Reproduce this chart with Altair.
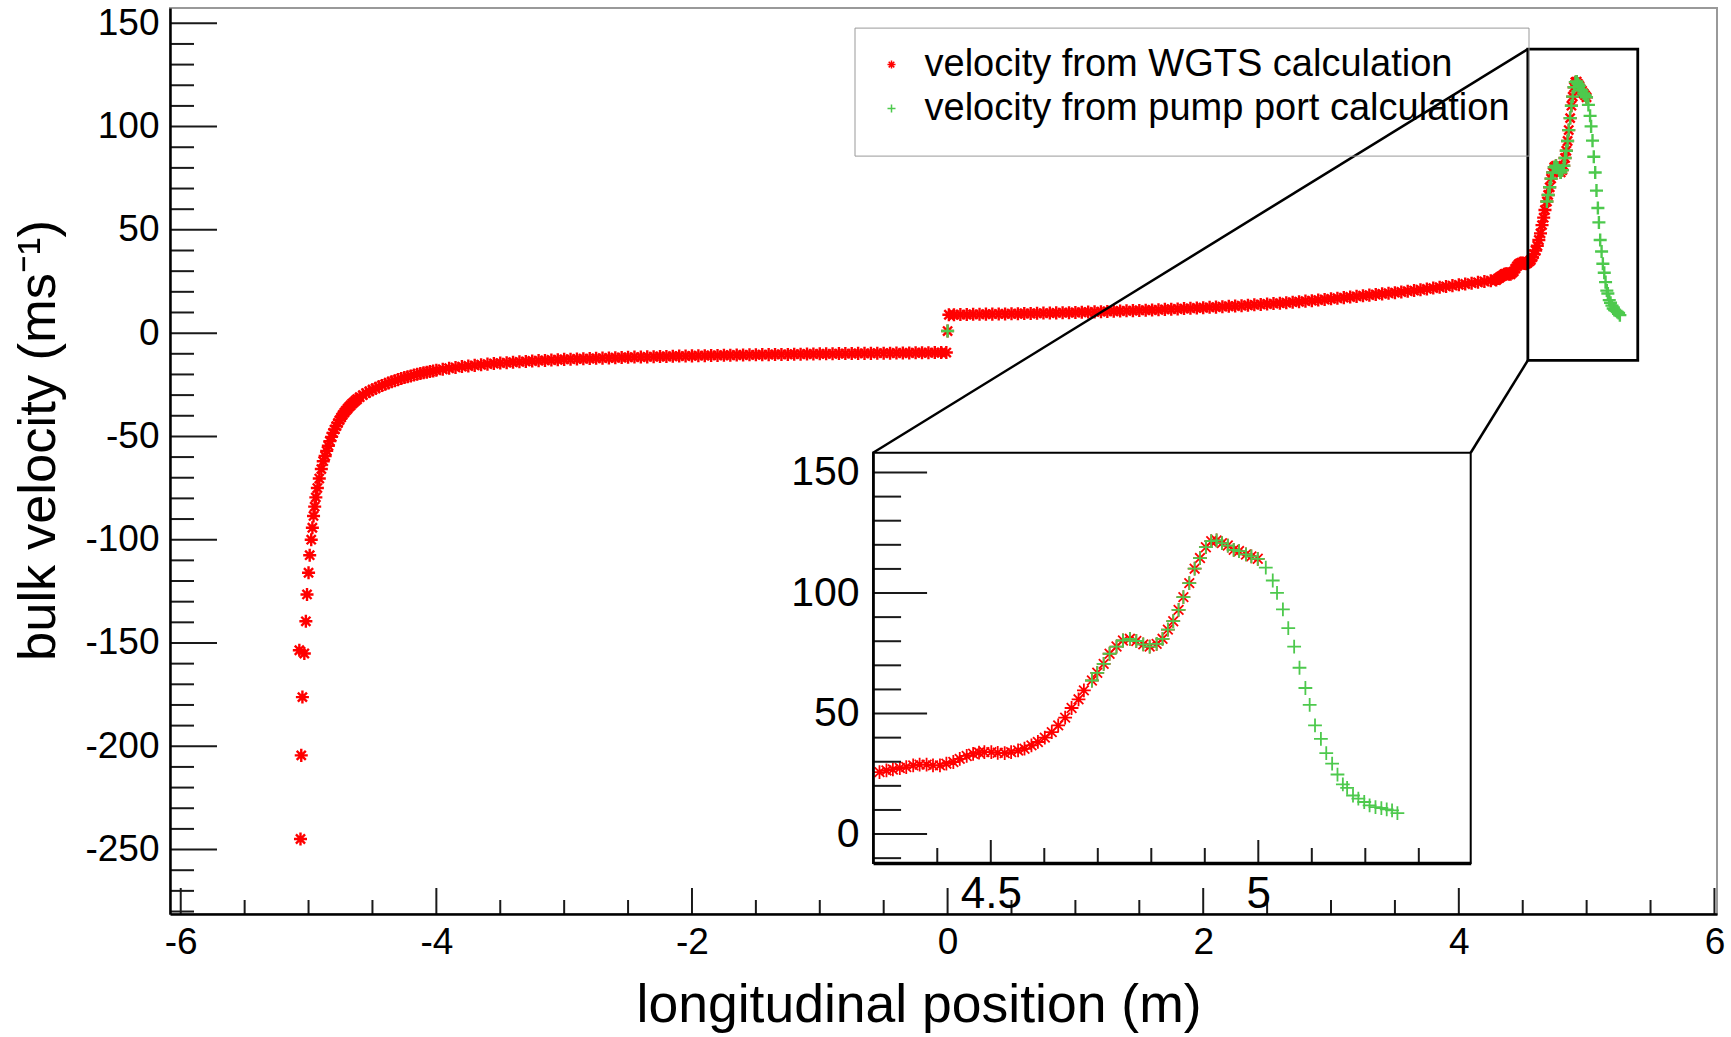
import altair as alt
import pandas as pd

WGTS = "velocity from WGTS calculation"
PUMP = "velocity from pump port calculation"

# ---------------- data ----------------
wgts_x_steep = [-5.063, -5.057, -5.048, -5.072, -5.033, -5.021, -5.012, -5.000, -4.991, -4.979,
                -4.970, -4.961, -4.952, -4.943, -4.931, -4.916, -4.900, -4.885, -4.870]
wgts_v_steep = [-244.9, -204.4, -176.2, -153.5, -155.1, -139.5, -126.5, -116.0, -107.5, -100.0,
                -94.2, -88.5, -84.0, -79.5, -75.0, -70.4, -65.8, -62.0, -59.5]

wgts_x_knee = [-4.858, -4.845, -4.833, -4.820, -4.808, -4.795, -4.783, -4.770, -4.758, -4.745,
               -4.733, -4.720, -4.708, -4.695, -4.683, -4.670, -4.658, -4.645, -4.633, -4.620,
               -4.600, -4.575, -4.550, -4.525, -4.500, -4.475, -4.450, -4.425, -4.400, -4.375,
               -4.350, -4.325, -4.300, -4.275, -4.250, -4.225, -4.200, -4.175, -4.150, -4.125,
               -4.100, -4.075, -4.050, -4.025, -4.000]
wgts_v_knee = [-57.0, -54.5, -52.3, -50.2, -48.3, -46.6, -45.0, -43.5, -42.1, -40.8,
               -39.6, -38.5, -37.5, -36.6, -35.7, -34.9, -34.1, -33.4, -32.7, -32.0,
               -31.0, -30.0, -29.0, -28.2, -27.4, -26.7, -26.0, -25.3, -24.7, -24.1,
               -23.5, -23.0, -22.5, -22.0, -21.5, -21.1, -20.7, -20.3, -19.9, -19.5,
               -19.2, -18.9, -18.6, -18.3, -18.0]

wgts_x_left = [-3.95, -3.90, -3.85, -3.80, -3.75, -3.70, -3.65, -3.60, -3.55, -3.50,
               -3.45, -3.40, -3.35, -3.30, -3.25, -3.20, -3.15, -3.10, -3.05, -3.00,
               -2.95, -2.90, -2.85, -2.80, -2.75, -2.70, -2.65, -2.60, -2.55, -2.50,
               -2.45, -2.40, -2.35, -2.30, -2.25, -2.20, -2.15, -2.10, -2.05, -2.00,
               -1.95, -1.90, -1.85, -1.80, -1.75, -1.70, -1.65, -1.60, -1.55, -1.50,
               -1.45, -1.40, -1.35, -1.30, -1.25, -1.20, -1.15, -1.10, -1.05, -1.00,
               -0.95, -0.90, -0.85, -0.80, -0.75, -0.70, -0.65, -0.60, -0.55, -0.50,
               -0.45, -0.40, -0.35, -0.30, -0.25, -0.20, -0.15, -0.10, -0.05, -0.01]
wgts_v_left = [-17.5, -17.0, -16.6, -16.2, -15.9, -15.6, -15.3, -15.0, -14.7, -14.5,
               -14.3, -14.1, -13.9, -13.7, -13.5, -13.3, -13.2, -13.0, -12.9, -12.7,
               -12.6, -12.5, -12.4, -12.3, -12.2, -12.1, -12.0, -11.9, -11.8, -11.7,
               -11.6, -11.6, -11.5, -11.4, -11.3, -11.3, -11.2, -11.1, -11.1, -11.0,
               -10.9, -10.9, -10.8, -10.8, -10.7, -10.7, -10.6, -10.6, -10.5, -10.5,
               -10.4, -10.4, -10.3, -10.3, -10.3, -10.2, -10.2, -10.1, -10.1, -10.0,
               -10.0, -10.0, -9.9, -9.9, -9.9, -9.8, -9.8, -9.8, -9.7, -9.7,
               -9.7, -9.6, -9.6, -9.6, -9.5, -9.5, -9.5, -9.4, -9.4, -9.4]

centre_x = [0.0]
centre_v = [1.0]

wgts_x_right = [0.01, 0.05, 0.10, 0.15, 0.20, 0.25, 0.30, 0.35, 0.40, 0.45,
                0.50, 0.55, 0.60, 0.65, 0.70, 0.75, 0.80, 0.85, 0.90, 0.95,
                1.00, 1.05, 1.10, 1.15, 1.20, 1.25, 1.30, 1.35, 1.40, 1.45,
                1.50, 1.55, 1.60, 1.65, 1.70, 1.75, 1.80, 1.85, 1.90, 1.95,
                2.00, 2.05, 2.10, 2.15, 2.20, 2.25, 2.30, 2.35, 2.40, 2.45,
                2.50, 2.55, 2.60, 2.65, 2.70, 2.75, 2.80, 2.85, 2.90, 2.95,
                3.00, 3.05, 3.10, 3.15, 3.20, 3.25, 3.30, 3.35, 3.40, 3.45,
                3.50, 3.55, 3.60, 3.65, 3.70, 3.75, 3.80, 3.85, 3.90, 3.95,
                4.00, 4.05, 4.10, 4.15, 4.20, 4.25]
wgts_v_right = [8.9, 8.9, 9.0, 9.0, 9.1, 9.1, 9.2, 9.2, 9.3, 9.3,
                9.4, 9.4, 9.5, 9.5, 9.6, 9.7, 9.7, 9.8, 9.9, 9.9,
                10.0, 10.1, 10.2, 10.3, 10.4, 10.5, 10.6, 10.7, 10.8, 10.9,
                11.0, 11.1, 11.2, 11.3, 11.5, 11.6, 11.7, 11.9, 12.0, 12.2,
                12.3, 12.5, 12.6, 12.8, 13.0, 13.1, 13.3, 13.5, 13.7, 13.9,
                14.1, 14.3, 14.5, 14.7, 15.0, 15.2, 15.5, 15.7, 16.0, 16.3,
                16.6, 16.9, 17.2, 17.5, 17.8, 18.1, 18.4, 18.7, 19.0, 19.3,
                19.6, 19.9, 20.3, 20.6, 21.0, 21.4, 21.8, 22.2, 22.6, 23.0,
                23.4, 23.8, 24.2, 24.6, 25.0, 25.4]

wgts_x_peak = [4.292, 4.305, 4.317, 4.330, 4.342, 4.355, 4.367, 4.380, 4.392, 4.405,
               4.417, 4.430, 4.442, 4.455, 4.467, 4.478, 4.488, 4.501, 4.513, 4.526,
               4.538, 4.551, 4.563, 4.576, 4.588, 4.601, 4.614, 4.626, 4.639, 4.651,
               4.664, 4.674, 4.689, 4.699, 4.711, 4.722, 4.735, 4.747, 4.760, 4.772,
               4.785, 4.797, 4.810, 4.821, 4.831, 4.841, 4.851, 4.860, 4.871, 4.881,
               4.891, 4.902, 4.912, 4.922, 4.932, 4.943, 4.954, 4.964, 4.977, 4.987,
               4.999]
wgts_v_peak = [25.7, 26.4, 26.8, 27.4, 27.8, 28.5, 28.8, 28.8, 28.5, 28.5,
               29.2, 29.9, 31.2, 32.4, 33.3, 33.8, 34.0, 34.0, 33.7, 33.6,
               34.0, 34.7, 35.4, 36.8, 38.2, 40.0, 42.3, 45.1, 48.3, 52.3,
               55.9, 59.6, 63.7, 66.9, 70.6, 74.8, 77.8, 80.3, 81.0, 80.1,
               78.7, 77.8, 78.9, 81.0, 84.8, 88.3, 93.0, 98.3, 104.1, 110.1,
               114.5, 119.0, 121.5, 121.8, 120.7, 119.7, 117.9, 117.4, 116.0, 115.2,
               114.2]

pump_x = [4.689, 4.699, 4.711, 4.722, 4.735, 4.747, 4.760, 4.772, 4.785, 4.797,
          4.810, 4.821, 4.831, 4.841, 4.851, 4.860, 4.871, 4.881, 4.891, 4.902,
          4.912, 4.922, 4.932, 4.943, 4.954, 4.964, 4.977, 4.987, 4.999, 5.014,
          5.027, 5.035, 5.046, 5.056, 5.067, 5.077, 5.088, 5.096, 5.106, 5.117,
          5.127, 5.138, 5.148, 5.158, 5.166, 5.177, 5.187, 5.198, 5.208, 5.219,
          5.230, 5.240, 5.250, 5.260]
pump_v = [63.7, 66.9, 70.6, 74.8, 77.8, 80.3, 81.0, 80.1, 78.7, 77.8,
          78.9, 81.0, 84.8, 88.3, 93.0, 98.3, 104.1, 110.1, 114.5, 119.0,
          121.5, 121.8, 120.7, 119.7, 117.9, 117.4, 116.0, 115.2, 114.2, 110.5,
          105.2, 100.1, 93.2, 85.4, 77.8, 69.0, 60.6, 53.6, 45.1, 39.5,
          33.6, 29.2, 24.7, 20.6, 19.2, 16.0, 14.7, 13.3, 11.9, 11.2,
          10.8, 10.2, 9.8, 8.7]

# axes / ticks
x_major = [-6, -4, -2, 0, 2, 4, 6]
x_minor = [-5.5, -5, -4.5, -3.5, -3, -2.5, -1.5, -1, -0.5, 0.5, 1, 1.5, 2.5, 3, 3.5, 4.5, 5, 5.5]
y_major = [-250, -200, -150, -100, -50, 0, 50, 100, 150]
y_minor = [v for v in range(-280, 151, 10) if v % 50 != 0]
inset_x_major = [4.5, 5]
inset_x_minor = [4.4, 4.6, 4.7, 4.8, 4.9, 5.1, 5.2, 5.3]
inset_y_major = [0, 50, 100, 150]
inset_y_minor = [-10, 10, 20, 30, 40, 60, 70, 80, 90, 110, 120, 130, 140]

# zoom annotation (main-plot coordinates)
X_DOMAIN = [-6.084, 6.02]
Y_DOMAIN = [-281.2, 157.4]
zoom_box_x = [4.54, 5.40]
zoom_box_y = [-13.2, 137.5]
inset_box_x = [-0.583, 4.093]
inset_box_y = [-256.5, -57.9]
INSET_X_DOMAIN = [4.28, 5.397]
INSET_Y_DOMAIN = [-12.0, 158.2]

# ---------------- build ----------------
FONT = "Liberation Sans"
W, H = 1547, 906
RED, GREEN = "#ff0000", "#4dc94d"
ASTERISK = "M-1,0L1,0M0,-1L0,1M-0.7,-0.7L0.7,0.7M-0.7,0.7L0.7,-0.7"
PLUS = "M-1,0L1,0M0,-1L0,1"


def rows(xs, vs, name):
    return [{"x": a, "v": b, "series": name} for a, b in zip(xs, vs)]


df = pd.DataFrame(
    rows(wgts_x_steep, wgts_v_steep, WGTS)
    + rows(wgts_x_knee, wgts_v_knee, WGTS)
    + rows(wgts_x_left, wgts_v_left, WGTS)
    + rows(centre_x, centre_v, WGTS)
    + rows(wgts_x_right, wgts_v_right, WGTS)
    + rows(wgts_x_peak, wgts_v_peak, WGTS)
    + rows(centre_x, centre_v, PUMP)
    + rows(pump_x, pump_v, PUMP)
)


def px_x(x):
    return (x - X_DOMAIN[0]) / (X_DOMAIN[1] - X_DOMAIN[0]) * W


def px_y(v):
    return (Y_DOMAIN[1] - v) / (Y_DOMAIN[1] - Y_DOMAIN[0]) * H


in_left, in_right = px_x(inset_box_x[0]), px_x(inset_box_x[1])
in_top, in_bottom = px_y(inset_box_y[1]), px_y(inset_box_y[0])

main_x = alt.Scale(domain=X_DOMAIN, nice=False, zero=False)
main_y = alt.Scale(domain=Y_DOMAIN, nice=False, zero=False)
inset_x = alt.Scale(domain=INSET_X_DOMAIN, range=[in_left, in_right], nice=False, zero=False)
inset_y = alt.Scale(domain=INSET_Y_DOMAIN, range=[in_bottom, in_top], nice=False, zero=False)

legend = alt.Legend(
    title=" ", titleOrient="bottom", titleFontSize=6, titlePadding=4,
    orient="none", legendX=684.5, legendY=19.6, padding=18,
    symbolOffset=0, symbolSize=64, symbolStrokeWidth=1.5,
    labelFontSize=38, labelFont=FONT, labelColor="black", labelOffset=14,
    labelLimit=1000, rowPadding=6, strokeColor="#999999", fillColor="transparent",
)
color_enc = alt.Color("series:N", scale=alt.Scale(domain=[WGTS, PUMP], range=[RED, GREEN]), legend=legend)
shape_enc = alt.Shape("series:N", scale=alt.Scale(domain=[WGTS, PUMP], range=[ASTERISK, PLUS]), legend=legend)

LBL = "datum.value + ''"

x_axis = alt.Axis(
    orient="bottom", values=x_major, ticks=False, tickSize=0, labelFontSize=37, labelFont=FONT,
    labelColor="black", labelPadding=10, labelExpr=LBL, labelFlush=False, labelOverlap=False,
    domainColor="black", domainWidth=2.5, grid=False, zindex=1,
    title="longitudinal position (m)", titleFont=FONT, titleFontSize=53.5, titleFontWeight="normal",
    titleColor="black", titleX=748.5, titleY=107.7, titleBaseline="alphabetic", titleAlign="center",
)
y_axis = alt.Axis(
    orient="left", values=y_major, ticks=False, tickSize=0, labelFontSize=37, labelFont=FONT,
    labelColor="black", labelPadding=11, labelExpr=LBL, labelFlush=False, labelOverlap=False,
    domainColor="black", domainWidth=2.5, grid=False, zindex=1,
    title="bulk velocity (ms⁻¹)", titleFont=FONT, titleFontSize=52.5, titleFontWeight="normal",
    titleColor="black", titleAngle=270, titleX=-116, titleY=432, titleBaseline="alphabetic",
    titleAlign="center",
)
inset_x_axis = alt.Axis(
    orient="bottom", offset=-(H - in_bottom), values=inset_x_major, ticks=False, tickSize=0,
    labelFontSize=44, labelFont=FONT, labelColor="black", labelPadding=10, labelExpr=LBL,
    labelFlush=False, labelOverlap=False, domainColor="black", domainWidth=3.5, grid=False,
    title=None, zindex=1)
inset_y_axis = alt.Axis(
    orient="left", offset=-in_left, values=inset_y_major, ticks=False, tickSize=0,
    labelFontSize=41, labelFont=FONT, labelColor="black", labelPadding=14, labelExpr=LBL,
    labelFlush=False, labelOverlap=False, domainColor="black", domainWidth=2.5, grid=False,
    title=None, zindex=1)

TICK = dict(color="#1a1a1a", strokeWidth=2)


def ytick(vals, scale, axis, x0, length):
    return alt.Chart(pd.DataFrame({"t": vals})).mark_rule(**TICK).encode(
        y=alt.Y("t:Q", scale=scale, axis=axis), x=alt.value(x0), x2=alt.value(x0 + length))


def xtick(vals, scale, axis, y0, length):
    return alt.Chart(pd.DataFrame({"t": vals})).mark_rule(**TICK).encode(
        x=alt.X("t:Q", scale=scale, axis=axis), y=alt.value(y0), y2=alt.value(y0 - length))


main_points = alt.Chart(df).mark_point(filled=False, size=170, strokeWidth=2.4, opacity=1).encode(
    x=alt.X("x:Q", scale=main_x, axis=x_axis),
    y=alt.Y("v:Q", scale=main_y, axis=y_axis),
    color=color_enc,
    shape=shape_enc,
)

zoom_df = pd.DataFrame({"x0": [zoom_box_x[0]], "x1": [zoom_box_x[1]],
                        "y0": [zoom_box_y[0]], "y1": [zoom_box_y[1]]})
zoom_rect = alt.Chart(zoom_df).mark_rect(fillOpacity=0, stroke="black", strokeWidth=2.8).encode(
    x=alt.X("x0:Q", scale=main_x, axis=x_axis), x2="x1:Q",
    y=alt.Y("y0:Q", scale=main_y, axis=y_axis), y2="y1:Q")

conn_df = pd.DataFrame({
    "xa": [zoom_box_x[0], zoom_box_x[0]], "ya": [zoom_box_y[1], zoom_box_y[0]],
    "xb": [inset_box_x[0], inset_box_x[1]], "yb": [inset_box_y[1], inset_box_y[1]],
})
connectors = alt.Chart(conn_df).mark_rule(color="black", strokeWidth=2.5).encode(
    x=alt.X("xa:Q", scale=main_x, axis=x_axis), x2="xb:Q",
    y=alt.Y("ya:Q", scale=main_y, axis=y_axis), y2="yb:Q")

main_layer = alt.layer(
    main_points,
    ytick(y_major, main_y, y_axis, 0, 47), ytick(y_minor, main_y, y_axis, 0, 24),
    xtick(x_major, main_x, x_axis, H, 26), xtick(x_minor, main_x, x_axis, H, 14),
    zoom_rect, connectors,
)

# ---------------- inset ----------------
inset_df = pd.DataFrame({"x0": [INSET_X_DOMAIN[0]], "x1": [INSET_X_DOMAIN[1]],
                         "y0": [INSET_Y_DOMAIN[0]], "y1": [INSET_Y_DOMAIN[1]]})
inset_bg = alt.Chart(inset_df).mark_rect(fill="white", stroke="black", strokeWidth=2).encode(
    x=alt.X("x0:Q", scale=inset_x, axis=inset_x_axis), x2="x1:Q",
    y=alt.Y("y0:Q", scale=inset_y, axis=inset_y_axis), y2="y1:Q")

inset_points = alt.Chart(df).transform_filter(
    alt.datum.x >= INSET_X_DOMAIN[0]
).mark_point(filled=False, size=190, strokeWidth=1.8, opacity=1).encode(
    x=alt.X("x:Q", scale=inset_x, axis=inset_x_axis),
    y=alt.Y("v:Q", scale=inset_y, axis=inset_y_axis),
    color=color_enc,
    shape=shape_enc,
)

inset_layer = alt.layer(
    inset_bg,
    inset_points,
    ytick(inset_y_major, inset_y, inset_y_axis, in_left, 54),
    ytick(inset_y_minor, inset_y, inset_y_axis, in_left, 28),
    xtick(inset_x_major, inset_x, inset_x_axis, in_bottom, 23),
    xtick(inset_x_minor, inset_x, inset_x_axis, in_bottom, 15),
)

chart = alt.layer(main_layer, inset_layer).resolve_scale(
    x="independent", y="independent"
).properties(
    width=W, height=H,
    autosize=alt.AutoSizeParams(type="none"),
    padding={"left": 170, "top": 8, "right": 14, "bottom": 123},
    background="white",
).configure(font=FONT).configure_view(stroke="#999999", strokeWidth=2)

chart.save("out.html", embed_options={"renderer": "svg", "actions": False})
